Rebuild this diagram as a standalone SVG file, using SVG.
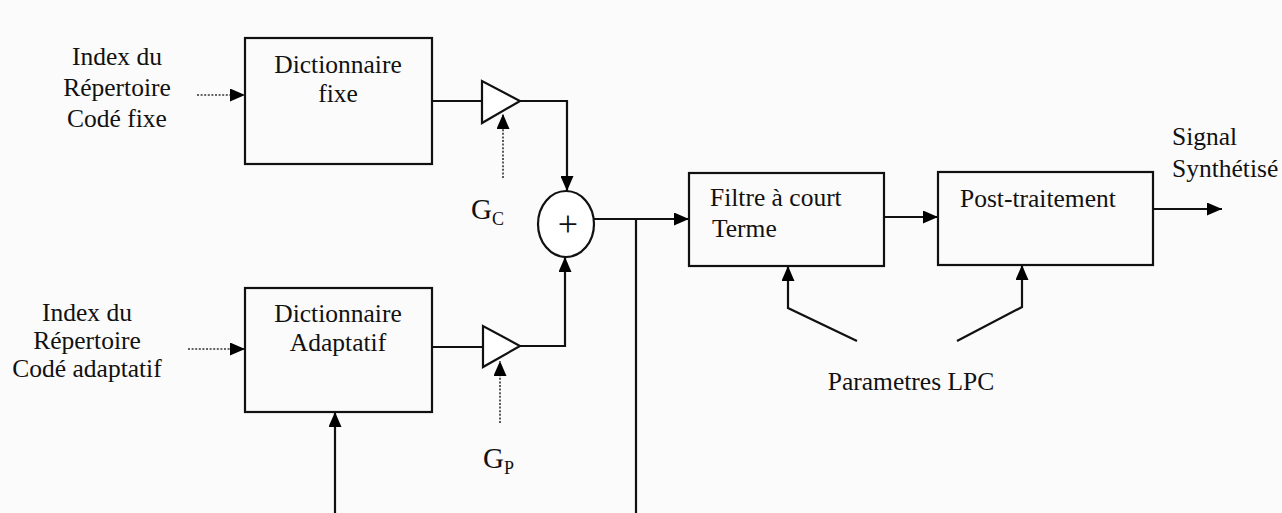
<svg xmlns="http://www.w3.org/2000/svg" width="1282" height="513" viewBox="0 0 1282 513">
<defs>
<marker id="ah" markerUnits="userSpaceOnUse" markerWidth="15" markerHeight="13" refX="15" refY="6.5" orient="auto"><path d="M0,0 L15,6.5 L0,13 z" fill="#000"/></marker>
<style>
.t{font-family:"Liberation Serif","Times New Roman",serif;font-size:25.5px;fill:#111}
.c{text-anchor:middle}
.g{font-size:29px}
.sub{font-size:18px}
.plus{font-size:36px}
.box{fill:none;stroke:#111;stroke-width:2.2}
.ln{fill:none;stroke:#111;stroke-width:2.2}
.dot{fill:none;stroke:#333;stroke-width:1.6;stroke-dasharray:2,1.6}
.amp{fill:#fff;stroke:#111;stroke-width:2.2}
</style>
</defs>
<rect width="1282" height="513" fill="#fbfbfb"/>
<g id="connectors">
<path class="dot" d="M197,95 H245" marker-end="url(#ah)"/>
<path class="dot" d="M188,349 H245" marker-end="url(#ah)"/>
<path class="ln" d="M432,101 H482"/>
<path class="ln" d="M520,101 H567 V191" marker-end="url(#ah)"/>
<path class="dot" d="M503,178 V114" marker-end="url(#ah)"/>
<path class="ln" d="M432,347 H483"/>
<path class="ln" d="M520,346 H565 V257" marker-end="url(#ah)"/>
<path class="dot" d="M500,423 V361" marker-end="url(#ah)"/>
<path class="ln" d="M594,219 H689" marker-end="url(#ah)"/>
<path class="ln" d="M636,219 V513"/>
<path class="ln" d="M335,513 V412" marker-end="url(#ah)"/>
<path class="ln" d="M884,217 H938" marker-end="url(#ah)"/>
<path class="ln" d="M1153,209 H1222" marker-end="url(#ah)"/>
<path class="ln" d="M857,341 L788,308 V266" marker-end="url(#ah)"/>
<path class="ln" d="M957,341 L1022,307 V265" marker-end="url(#ah)"/>
</g>
<g id="input-fixe">
<text class="t c" x="117" y="65">Index du</text>
<text class="t c" x="117" y="96">Répertoire</text>
<text class="t c" x="117" y="127">Codé fixe</text>
</g>
<g id="input-adaptatif">
<text class="t c" x="87" y="321">Index du</text>
<text class="t c" x="87" y="349">Répertoire</text>
<text class="t c" x="87" y="377">Codé adaptatif</text>
</g>
<g id="dict-fixe">
<rect class="box" x="245" y="38" width="187" height="126"/>
<text class="t c" x="338" y="73">Dictionnaire</text>
<text class="t c" x="338" y="102">fixe</text>
</g>
<g id="dict-adaptatif">
<rect class="box" x="245" y="288" width="187" height="124"/>
<text class="t c" x="338" y="322">Dictionnaire</text>
<text class="t c" x="338" y="351">Adaptatif</text>
</g>
<g id="gain-c">
<polygon class="amp" points="482,81 482,123 520,101"/>
<text class="t g" x="471" y="219">G<tspan class="sub" dy="6">C</tspan></text>
</g>
<g id="gain-p">
<polygon class="amp" points="483,326 483,367 520,346"/>
<text class="t g" x="483" y="468">G<tspan class="sub" dy="6">P</tspan></text>
</g>
<g id="sum">
<ellipse cx="566" cy="224" rx="28" ry="33" fill="#fff" stroke="#111" stroke-width="2.2"/>
<text class="t c plus" x="568" y="236">+</text>
</g>
<g id="filtre">
<rect class="box" x="689" y="173" width="195" height="93"/>
<text class="t" x="710" y="206">Filtre à court</text>
<text class="t" x="712" y="237">Terme</text>
</g>
<g id="post">
<rect class="box" x="938" y="172" width="215" height="93"/>
<text class="t" x="960" y="207">Post-traitement</text>
</g>
<g id="signal">
<text class="t" x="1172" y="145">Signal</text>
<text class="t" x="1172" y="177">Synthétisé</text>
</g>
<g id="lpc">
<text class="t c" x="911" y="390">Parametres LPC</text>
</g>
</svg>
